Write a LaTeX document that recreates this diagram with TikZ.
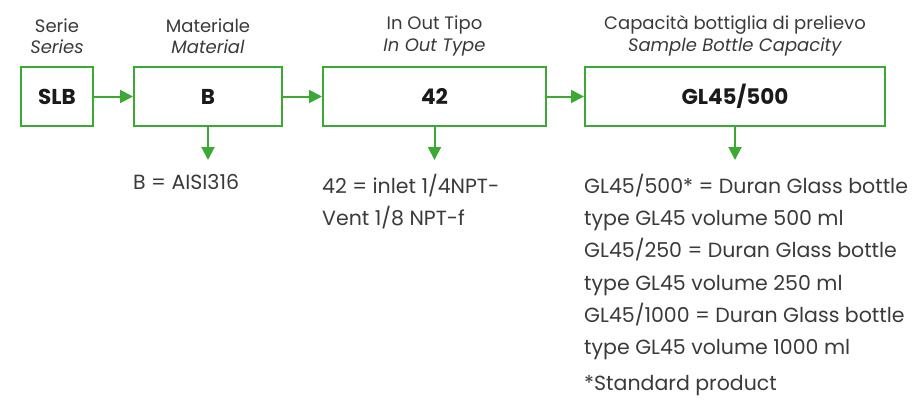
\documentclass[tikz,border=0pt]{standalone}
\usepackage{fontspec}
\setmainfont{Poppins}
\usetikzlibrary{arrows.meta,positioning}
\definecolor{codeGreen}{RGB}{61,169,53}
\definecolor{labelGray}{RGB}{58,58,58}
\definecolor{codeBlack}{RGB}{26,26,26}

\tikzset{
  codebox/.style={draw=codeGreen, line width=2pt, minimum height=59pt, inner sep=0pt,
    font=\fontsize{21.5}{24}\selectfont\bfseries, text=codeBlack},
  fieldlabel/.style={align=center, inner sep=0pt, text=labelGray,
    font=\fontsize{18}{21.5}\selectfont},
  codetext/.style={align=left, anchor=north west, inner sep=0pt, text=labelGray,
    font=\fontsize{20.5}{32.2}\selectfont},
  flow/.style={codeGreen, line width=2pt, -{Triangle[length=13pt,width=13pt]}}
}

\begin{document}
\begin{tikzpicture}[x=1pt,y=-1pt]
    \useasboundingbox (0,0) rectangle (915,399);
    % code boxes
    \node[codebox, minimum width=72pt]  (serie) at (57,96.5)    {SLB};
    \node[codebox, minimum width=148pt] (mat)   at (208,96.5)   {B};
    \node[codebox, minimum width=223pt] (inout) at (434.5,96.5) {42};
    \node[codebox, minimum width=300pt] (cap)   at (735,96.5)   {GL45/500};
    % headings above the boxes
    \node[fieldlabel] (serielbl) at (57,36)    {Serie\\\textit{Series}};
    \node[fieldlabel] (matlbl)   at (208,36)   {Materiale\\\textit{Material}};
    \node[fieldlabel] (inoutlbl) at (434.5,36) {In Out Tipo\\\textit{In Out Type}};
    \node[fieldlabel] (caplbl)   at (735,36)   {Capacità bottiglia di prelievo\\\textit{Sample Bottle Capacity}};
    % chain of arrows
    \draw[flow] (serie) -- (mat);
    \draw[flow] (mat) -- (inout);
    \draw[flow] (inout) -- (cap);
    % options below
    \coordinate (matend)   at (208,160);
    \coordinate (inoutend) at (434.5,160);
    \coordinate (capend)   at (735,160);
    \draw[flow] (mat.south) -- (matend);
    \draw[flow] (inout.south) -- (inoutend);
    \draw[flow] (cap.south) -- (capend);
    \node[codetext] (matopt)   at (133,174) {B = AISI316};
    \node[codetext] (inoutopt) at (322,174) {42 = inlet 1/4NPT-\\Vent 1/8 NPT-f};
    \node[codetext] (capopt)   at (584,174) {GL45/500* = Duran Glass bottle\\
      type GL45 volume 500 ml\\
      GL45/250 = Duran Glass bottle\\
      type GL45 volume 250 ml\\
      GL45/1000 = Duran Glass bottle\\
      type GL45 volume 1000 ml\\[4pt]
      *Standard product};
\end{tikzpicture}
\end{document}
